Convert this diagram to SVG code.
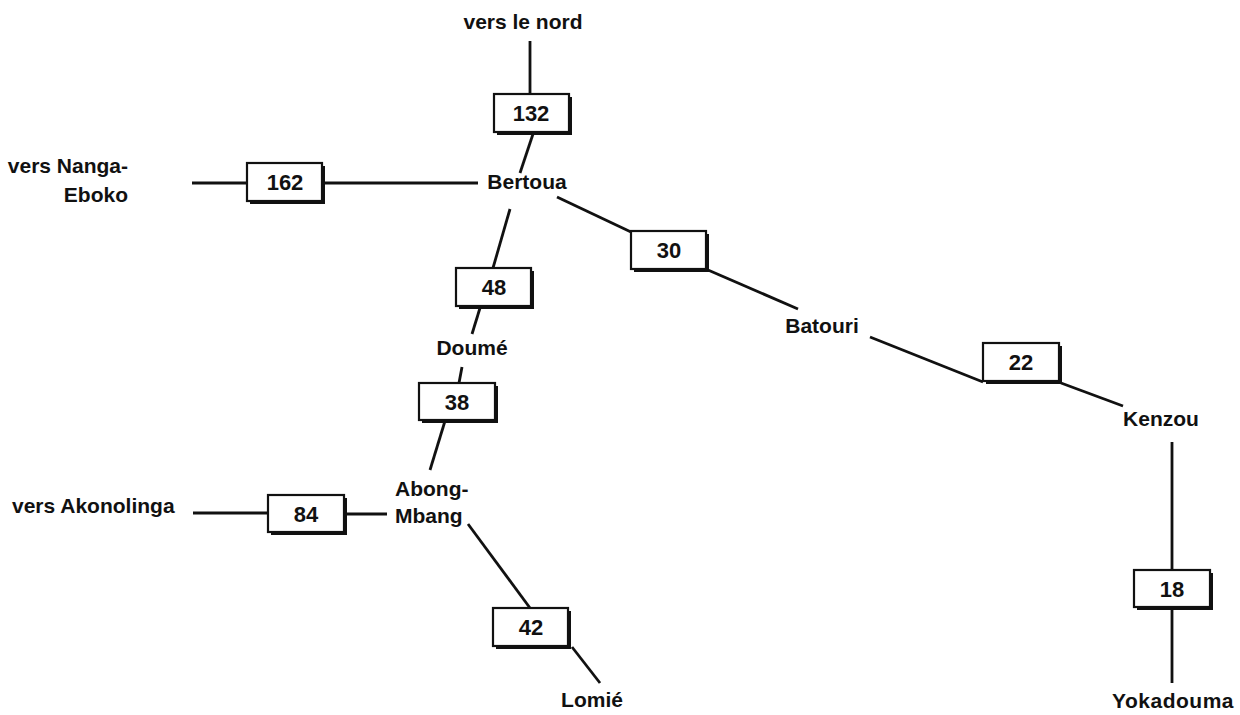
<svg xmlns="http://www.w3.org/2000/svg" width="1240" height="715" viewBox="0 0 1240 715">
<style>
  .lbl { font-family: "Liberation Sans", Arial, sans-serif; font-weight: bold; font-size: 21px; fill: #111; }
  .num { font-family: "Liberation Sans", Arial, sans-serif; font-weight: bold; font-size: 22px; fill: #111; text-anchor: middle; }
  .c { text-anchor: middle; }
  .e { text-anchor: end; }
  .box { fill: #fff; stroke: #111; stroke-width: 2.2; }
  .shadow { fill: #111; }
  .conn line { stroke: #111; stroke-width: 2.8; stroke-linecap: butt; }
</style>
<rect width="1240" height="715" fill="#fff"/>
<g id="connectors" class="conn">
  <line x1="530" y1="41" x2="530" y2="94"/>
  <line x1="533" y1="134" x2="520" y2="173"/>
  <line x1="192" y1="183" x2="247" y2="183"/>
  <line x1="324" y1="183" x2="478" y2="183"/>
  <line x1="510" y1="209" x2="493" y2="268"/>
  <line x1="480" y1="308" x2="472" y2="334"/>
  <line x1="557" y1="197" x2="631" y2="232"/>
  <line x1="708" y1="270" x2="798" y2="309"/>
  <line x1="870" y1="337" x2="983" y2="382"/>
  <line x1="1061" y1="383" x2="1123" y2="406"/>
  <line x1="1172" y1="442" x2="1172" y2="570"/>
  <line x1="1172" y1="608" x2="1172" y2="683"/>
  <line x1="462" y1="367" x2="459" y2="383"/>
  <line x1="445" y1="421" x2="430" y2="470"/>
  <line x1="193" y1="513" x2="268" y2="513"/>
  <line x1="345" y1="514" x2="387" y2="514"/>
  <line x1="468" y1="524" x2="530" y2="608"/>
  <line x1="572" y1="647" x2="600" y2="683"/>
</g>
<g id="n-nord"><text class="lbl c" x="523" y="29">vers le nord</text></g>
<g id="b-132"><rect class="shadow" x="497" y="97" width="75" height="38"/><rect class="box" x="494" y="94" width="75" height="38"/><text class="num" x="531" y="121">132</text></g>
<g id="n-bertoua"><text class="lbl c" x="527" y="189">Bertoua</text></g>
<g id="n-nanga"><text class="lbl e" x="128" y="173">vers Nanga-</text><text class="lbl e" x="128" y="202">Eboko</text></g>
<g id="b-162"><rect class="shadow" x="250" y="166" width="75" height="38"/><rect class="box" x="247" y="163" width="75" height="38"/><text class="num" x="285" y="190">162</text></g>
<g id="b-48"><rect class="shadow" x="459" y="271" width="75" height="38"/><rect class="box" x="456" y="268" width="75" height="38"/><text class="num" x="494" y="295">48</text></g>
<g id="n-doume"><text class="lbl c" x="472" y="355">Doumé</text></g>
<g id="b-30"><rect class="shadow" x="634" y="234" width="75" height="38"/><rect class="box" x="631" y="231" width="75" height="38"/><text class="num" x="669" y="258">30</text></g>
<g id="n-batouri"><text class="lbl c" x="822" y="333">Batouri</text></g>
<g id="b-22"><rect class="shadow" x="986" y="346" width="76" height="38"/><rect class="box" x="983" y="343" width="76" height="38"/><text class="num" x="1021" y="370">22</text></g>
<g id="n-kenzou"><text class="lbl c" x="1161" y="426">Kenzou</text></g>
<g id="b-18"><rect class="shadow" x="1137" y="573" width="76" height="37"/><rect class="box" x="1134" y="570" width="76" height="37"/><text class="num" x="1172" y="597">18</text></g>
<g id="n-yokadouma"><text class="lbl c" x="1173" y="708" letter-spacing="0.5">Yokadouma</text></g>
<g id="b-38"><rect class="shadow" x="422" y="386" width="76" height="37"/><rect class="box" x="419" y="383" width="76" height="37"/><text class="num" x="457" y="410">38</text></g>
<g id="n-abong"><text class="lbl" x="395" y="496">Abong-</text><text class="lbl" x="395" y="523">Mbang</text></g>
<g id="n-akonolinga"><text class="lbl" x="12" y="513">vers Akonolinga</text></g>
<g id="b-84"><rect class="shadow" x="271" y="498" width="76" height="37"/><rect class="box" x="268" y="495" width="76" height="37"/><text class="num" x="306" y="522">84</text></g>
<g id="b-42"><rect class="shadow" x="496" y="611" width="75" height="38"/><rect class="box" x="493" y="608" width="75" height="38"/><text class="num" x="531" y="635">42</text></g>
<g id="n-lomie"><text class="lbl c" x="592" y="707">Lomié</text></g>
</svg>
